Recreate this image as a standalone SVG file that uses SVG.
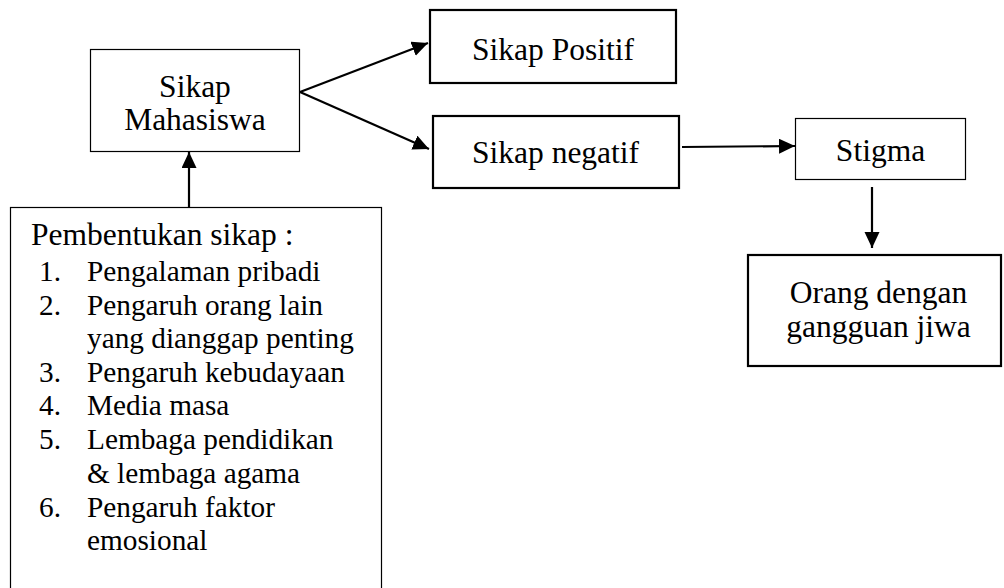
<svg xmlns="http://www.w3.org/2000/svg" width="1004" height="588" viewBox="0 0 1004 588">
<style>
  .t{font-size:31.5px;fill:#000}
  .li{font-size:29.3px;fill:#000}
  .thin{fill:#fff;stroke:#000;stroke-width:1.2}
  .thick{fill:#fff;stroke:#000;stroke-width:2.2}
  .c{fill:none;stroke:#000;stroke-width:2.2}
</style>
<defs>
  <marker id="ah" markerUnits="userSpaceOnUse" markerWidth="18" markerHeight="16" refX="16" refY="7.5" orient="auto">
    <path d="M0,0 L16,7.5 L0,15 z" fill="#000"/>
  </marker>
</defs>
<rect width="1004" height="588" fill="#fff"/>
<g id="connectors">
  <line class="c" x1="300" y1="92" x2="428" y2="43" marker-end="url(#ah)"/>
  <line class="c" x1="300" y1="92" x2="429" y2="149" marker-end="url(#ah)"/>
  <line class="c" x1="189" y1="207" x2="189" y2="152" marker-end="url(#ah)"/>
  <line class="c" x1="682" y1="147" x2="795" y2="146" marker-end="url(#ah)"/>
  <line class="c" x1="872" y1="187" x2="872" y2="248" marker-end="url(#ah)"/>
</g>
<g font-family="Liberation Serif, Tinos, Times New Roman, DejaVu Serif, serif">
<g id="sikap-mahasiswa">
  <rect class="thin" x="90.5" y="49.5" width="209" height="102"/>
  <text class="t" x="195" y="97" text-anchor="middle">Sikap</text>
  <text class="t" x="195" y="130" text-anchor="middle">Mahasiswa</text>
</g>
<g id="sikap-positif">
  <rect class="thick" x="430" y="10" width="246" height="73"/>
  <text class="t" x="472" y="60">Sikap Positif</text>
</g>
<g id="sikap-negatif">
  <rect class="thick" x="433" y="116" width="246" height="72"/>
  <text class="t" x="472" y="163">Sikap negatif</text>
</g>
<g id="stigma">
  <rect class="thin" x="795.5" y="118.5" width="170" height="61"/>
  <text class="t" x="880.5" y="161" text-anchor="middle">Stigma</text>
</g>
<g id="odgj">
  <rect class="thick" x="748" y="255" width="253" height="111"/>
  <text class="t" x="878.5" y="303" text-anchor="middle">Orang dengan</text>
  <text class="t" x="878.5" y="337" text-anchor="middle">gangguan jiwa</text>
</g>
<g id="pembentukan">
  <rect class="thin" x="10.5" y="207.5" width="371" height="400"/>
  <text class="t" x="31" y="245">Pembentukan sikap :</text>
  <text class="li" x="39" y="281">1.</text><text class="li" x="87" y="281">Pengalaman pribadi</text>
  <text class="li" x="39" y="315">2.</text><text class="li" x="87" y="315">Pengaruh orang lain</text>
  <text class="li" x="87" y="348">yang dianggap penting</text>
  <text class="li" x="39" y="382">3.</text><text class="li" x="87" y="382">Pengaruh kebudayaan</text>
  <text class="li" x="39" y="415">4.</text><text class="li" x="87" y="415">Media masa</text>
  <text class="li" x="39" y="449">5.</text><text class="li" x="87" y="449">Lembaga pendidikan</text>
  <text class="li" x="87" y="483">&amp; lembaga agama</text>
  <text class="li" x="39" y="517">6.</text><text class="li" x="87" y="517">Pengaruh faktor</text>
  <text class="li" x="87" y="550">emosional</text>
</g>
</g>
</svg>
